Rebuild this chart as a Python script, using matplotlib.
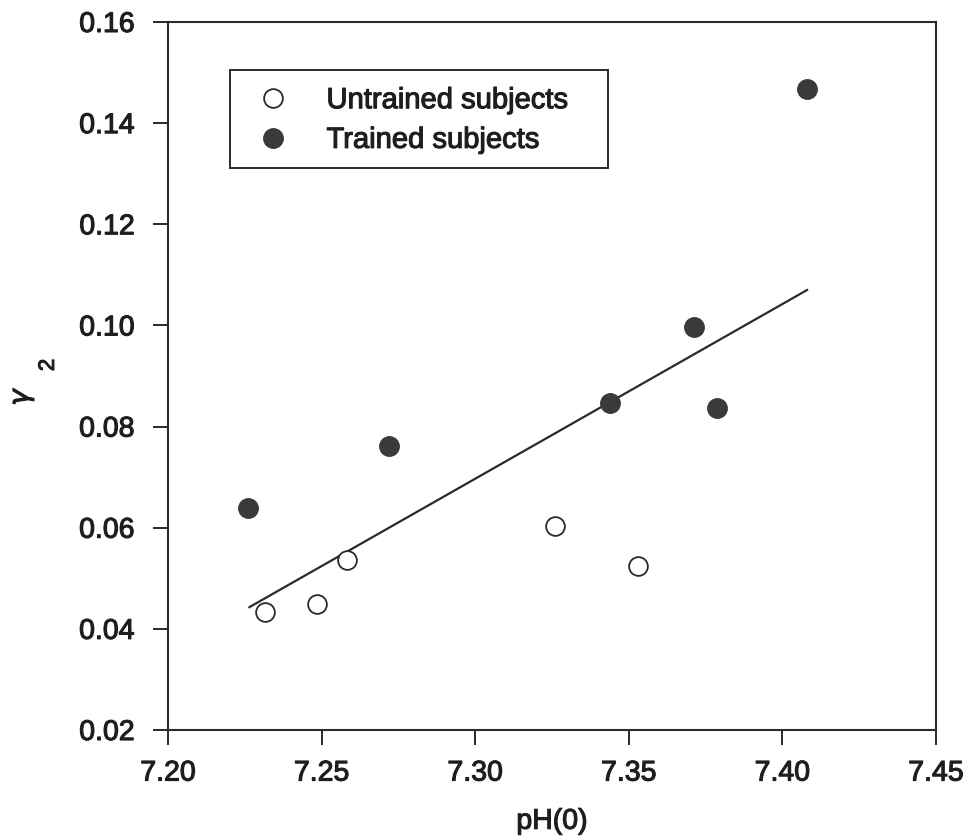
import numpy as np
import matplotlib.pyplot as plt
import matplotlib.patheffects as pe
from matplotlib.patches import Rectangle

# untrained subjects (open circles)
untrained_ph = [7.2315, 7.2484, 7.2582, 7.3261, 7.3531]
untrained_g2 = [0.0434, 0.0450, 0.0537, 0.0604, 0.0525]

# trained subjects (filled circles)
trained_ph = [7.226, 7.2718, 7.344, 7.3713, 7.3788, 7.408]
trained_g2 = [0.0639, 0.0761, 0.0847, 0.0996, 0.0837, 0.1468]

# regression line end points
fit_ph = [7.2265, 7.408]
fit_g2 = [0.0443, 0.1070]

xticks = [7.20, 7.25, 7.30, 7.35, 7.40, 7.45]
yticks = [0.02, 0.04, 0.06, 0.08, 0.10, 0.12, 0.14, 0.16]

plt.rcParams['font.family'] = ['Liberation Sans', 'DejaVu Sans']
ink = '#2a2a2a'
dot = '#3a3a3a'
txt = '#1e1e1e'
# slightly heavier strokes, like the scanned print
heavy = [pe.withStroke(linewidth=0.8, foreground=txt)]

fig = plt.figure(figsize=(9.68, 8.39), dpi=100)
ax = fig.add_axes([0.1736, 0.1299, 0.7934, 0.8439])

ax.plot(fit_ph, fit_g2, color=ink, lw=1.6, zorder=2)
ax.plot(untrained_ph, untrained_g2, 'o', ms=13.5, mfc='white', mec=ink,
        mew=1.3, zorder=3, label='Untrained subjects')
ax.plot(trained_ph, trained_g2, 'o', ms=14, mfc=dot, mec=dot,
        mew=1.0, zorder=3, label='Trained subjects')

ax.set_xlim(7.20, 7.45)
ax.set_ylim(0.02, 0.16)
ax.set_xticks(xticks)
ax.set_xticklabels([f'{v:.2f}' for v in xticks])
ax.set_yticks(yticks)
ax.set_yticklabels([f'{v:.2f}' for v in yticks])

for s in ax.spines.values():
    s.set_color(ink)
    s.set_linewidth(1.5)

ax.tick_params(direction='out', length=11, width=1.4, color=ink,
               labelsize=20.5, labelcolor=txt)
ax.tick_params(axis='x', pad=11)
ax.tick_params(axis='y', pad=13)
for lab in ax.get_xticklabels() + ax.get_yticklabels():
    lab.set_path_effects(heavy)

xl = ax.set_xlabel('pH(0)', fontsize=20.5, color=txt, labelpad=16)
xl.set_path_effects(heavy)

# y label: gamma with subscript 2, rotated
fig.text(0.024, 0.528, r'$\gamma$', fontsize=20, rotation=90,
         ha='center', va='center', color=txt, path_effects=heavy)
fig.text(0.050, 0.565, '2', fontsize=16, rotation=90,
         ha='center', va='center', color=txt, path_effects=heavy)

leg = ax.legend(loc='upper left', bbox_to_anchor=(0.081, 0.932),
                fontsize=21, frameon=False, borderpad=0.55,
                handletextpad=0.95, labelspacing=0.4, borderaxespad=0,
                handlelength=1.8)
for t in leg.get_texts():
    t.set_color(txt)
    t.set_path_effects(heavy)
ax.add_patch(Rectangle((0.0807, 0.794), 0.4923, 0.138, transform=ax.transAxes,
                       fill=False, ec=ink, lw=1.4, zorder=4))

fig.savefig('out.png', dpi=100)
